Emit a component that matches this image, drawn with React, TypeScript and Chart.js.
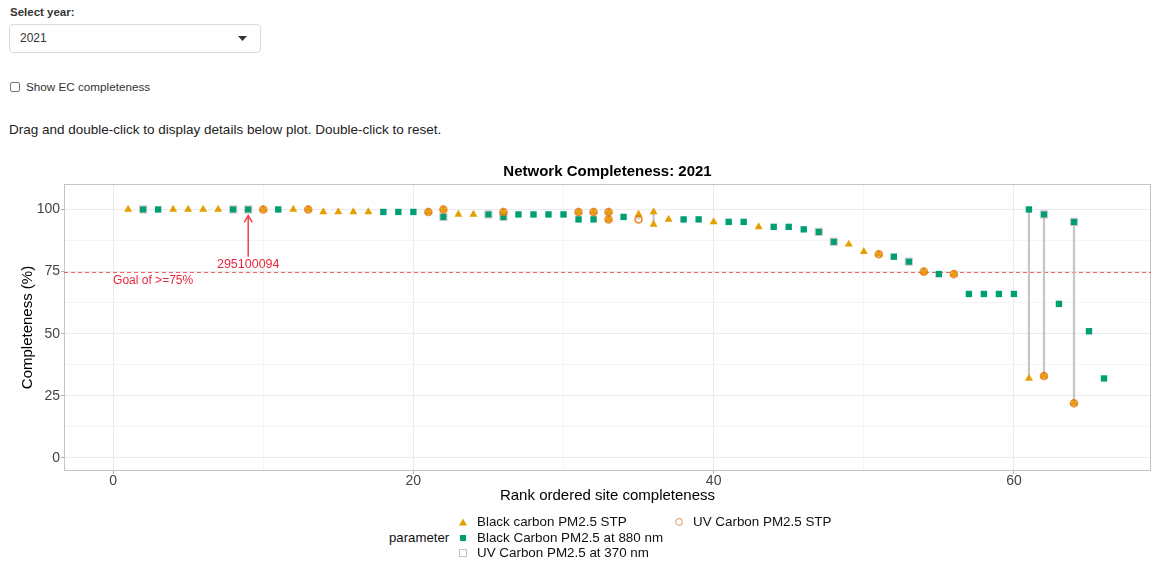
import React, { useEffect, useRef } from "react";
import { Chart, registerables } from "chart.js";

Chart.register(...registerables);

const FONT = '"Liberation Sans", Arial, Helvetica, sans-serif';

// ---- text ----
const selectLabel = "Select year:";
const selectedYear = "2021";
const checkboxLabel = "Show EC completeness";
const helpText = "Drag and double-click to display details below plot. Double-click to reset.";
const chartTitle = "Network Completeness: 2021";
const xAxisTitle = "Rank ordered site completeness";
const yAxisTitle = "Completeness (%)";
const legendTitle = "parameter";

// ---- ticks ----
const xTickValues = [0, 10, 20, 30, 40, 50, 60];
const xTickLabels = ["0", "", "20", "", "40", "", "60"];
const yTickValues = [0, 12.5, 25, 37.5, 50, 62.5, 75, 87.5, 100];
const yTickLabels = ["0", "", "25", "", "50", "", "75", "", "100"];

// ---- annotations ----
const goalValue = 75;
const goalLabel = "Goal of >=75%";
const highlightSite = "295100094";
const highlightRank = 9;
const highlightArrowFrom = 81;
const highlightArrowTo = 97.6;
const highlightLabelY = 78;

// ---- series ----
const seriesNames = [
  "Black carbon PM2.5 STP",
  "Black Carbon PM2.5 at 880 nm",
  "UV Carbon PM2.5 at 370 nm",
  "UV Carbon PM2.5 STP",
];

const bcStpRanks = [1, 4, 5, 6, 7, 10, 12, 13, 14, 15, 16, 17, 21, 22, 23, 24, 26, 31, 32, 33, 33, 35, 36, 36, 37, 40, 43, 49, 50, 51, 54, 56, 61, 62, 64];
const bcStpValues = [100, 100, 100, 100, 100, 100, 100, 100, 99, 99, 99, 99, 99, 100, 98, 98, 99, 99, 99, 99, 96, 98, 99, 94, 96, 95, 93, 86, 83, 82, 75, 74, 32, 33, 22];

const bc880Ranks = [2, 3, 8, 9, 11, 18, 19, 20, 22, 25, 26, 27, 28, 29, 30, 31, 32, 34, 38, 39, 41, 42, 44, 45, 46, 47, 48, 52, 53, 55, 57, 58, 59, 60, 61, 62, 63, 64, 65, 66];
const bc880Values = [100, 100, 100, 100, 100, 99, 99, 99, 97, 98, 97, 98, 98, 98, 98, 96, 96, 97, 96, 96, 95, 95, 93, 93, 92, 91, 87, 81, 79, 74, 66, 66, 66, 66, 100, 98, 62, 95, 51, 32];

const uv370Ranks = [2, 8, 9, 22, 25, 26, 47, 48, 53, 62, 64];
const uv370Values = [100, 100, 100, 97, 98, 97, 91, 87, 79, 98, 95];

const uvStpRanks = [10, 13, 21, 22, 26, 31, 32, 33, 33, 35, 51, 54, 56, 62, 64];
const uvStpValues = [100, 100, 99, 100, 99, 99, 99, 99, 96, 96, 82, 75, 74, 33, 22];

// ---- colours ----
const COL_BC_STP = "#E69F00";
const COL_BC_880 = "#009E73";
const COL_UV_370 = "rgba(185,165,175,0.6)";
const COL_UV_STP = "rgba(228,125,25,0.85)";
const COL_SEG = "#C6C6C6";
const COL_GOAL = "#E8283C";

function toPoints(ranks: number[], values: number[]) {
  return ranks.map((r, i) => ({ x: r, y: values[i] }));
}

function buildSegments() {
  const all = [
    toPoints(bcStpRanks, bcStpValues),
    toPoints(bc880Ranks, bc880Values),
    toPoints(uv370Ranks, uv370Values),
    toPoints(uvStpRanks, uvStpValues),
  ].flat();
  const byRank = new Map<number, number[]>();
  all.forEach((p) => {
    if (!byRank.has(p.x)) byRank.set(p.x, []);
    byRank.get(p.x)!.push(p.y);
  });
  const out: { x: number; y: number | null }[] = [];
  Array.from(byRank.keys())
    .sort((a, b) => a - b)
    .forEach((r) => {
      const v = byRank.get(r)!;
      const lo = Math.min(...v);
      const hi = Math.max(...v);
      if (hi - lo > 1.5) {
        out.push({ x: r, y: lo }, { x: r, y: hi }, { x: r, y: null });
      }
    });
  return out;
}

const annotationPlugin = {
  id: "annot",
  beforeDatasetsDraw(chart: any) {
    const { ctx, chartArea, scales } = chart;
    const y = scales.y;
    ctx.save();
    // panel border
    ctx.strokeStyle = "#C4C4C4";
    ctx.lineWidth = 1;
    ctx.strokeRect(chartArea.left + 0.5, chartArea.top + 0.5, chartArea.right - chartArea.left - 1, chartArea.bottom - chartArea.top - 1);
    // goal line
    const gy = Math.round(y.getPixelForValue(goalValue)) + 0.5;
    ctx.strokeStyle = "rgba(238,70,80,0.85)";
    ctx.lineWidth = 1.2;
    ctx.setLineDash([4, 3]);
    ctx.beginPath();
    ctx.moveTo(chartArea.left, gy);
    ctx.lineTo(chartArea.right, gy);
    ctx.stroke();
    ctx.restore();
  },
  afterDatasetsDraw(chart: any) {
    const { ctx, scales } = chart;
    const x = scales.x;
    const y = scales.y;
    ctx.save();
    // goal label
    ctx.fillStyle = COL_GOAL;
    ctx.font = `12px ${FONT}`;
    ctx.textAlign = "left";
    ctx.textBaseline = "middle";
    ctx.fillText(goalLabel, x.getPixelForValue(0), y.getPixelForValue(goalValue) + 9);
    // arrow
    const ax = x.getPixelForValue(highlightRank);
    const y0 = y.getPixelForValue(highlightArrowFrom);
    const y1 = y.getPixelForValue(highlightArrowTo);
    ctx.strokeStyle = "#EF4050";
    ctx.lineWidth = 1.5;
    ctx.beginPath();
    ctx.moveTo(ax, y0);
    ctx.lineTo(ax, y1);
    ctx.moveTo(ax - 4, y1 + 7);
    ctx.lineTo(ax, y1);
    ctx.lineTo(ax + 4, y1 + 7);
    ctx.stroke();
    // site label
    ctx.font = `12.5px ${FONT}`;
    ctx.textAlign = "center";
    ctx.fillText(highlightSite, ax, y.getPixelForValue(highlightLabelY));
    ctx.restore();
  },
  afterDraw(chart: any) {
    const { ctx, chartArea } = chart;
    ctx.save();
    ctx.fillStyle = "#000";
    ctx.font = `bold 15px ${FONT}`;
    ctx.textAlign = "center";
    ctx.textBaseline = "middle";
    ctx.fillText(chartTitle, (chartArea.left + chartArea.right) / 2, chartArea.top - 12);
    ctx.restore();
  },
};

function ChartCanvas() {
  const ref = useRef<HTMLCanvasElement | null>(null);
  useEffect(() => {
    if (!ref.current) return;
    const isMajorY = (v: number) => v % 25 === 0;
    const isMajorX = (v: number) => v % 20 === 0;
    const chart = new Chart(ref.current, {
      type: "scatter",
      data: {
        datasets: [
          {
            label: "segments",
            data: buildSegments() as any,
            showLine: true,
            borderColor: COL_SEG,
            borderWidth: 2.2,
            pointRadius: 0,
            spanGaps: false,
            order: 10,
          } as any,
          {
            label: seriesNames[1],
            data: toPoints(bc880Ranks, bc880Values),
            pointStyle: "rect",
            pointRadius: 4.5,
            backgroundColor: COL_BC_880,
            borderWidth: 0,
            order: 4,
          },
          {
            label: seriesNames[2],
            data: toPoints(uv370Ranks, uv370Values),
            pointStyle: "rect",
            pointRadius: 5.2,
            backgroundColor: "transparent",
            borderColor: COL_UV_370,
            borderWidth: 1,
            order: 3,
          },
          {
            label: seriesNames[0],
            data: toPoints(bcStpRanks, bcStpValues),
            pointStyle: "triangle",
            pointRadius: 4.6,
            backgroundColor: COL_BC_STP,
            borderWidth: 0,
            order: 2,
          },
          {
            label: seriesNames[3],
            data: toPoints(uvStpRanks, uvStpValues),
            pointStyle: "circle",
            pointRadius: 3.4,
            backgroundColor: "transparent",
            borderColor: COL_UV_STP,
            borderWidth: 1.8,
            order: 1,
          },
        ],
      },
      options: {
        animation: false,
        responsive: false,
        events: [],
        layout: { autoPadding: false, padding: { top: 29, right: 0, left: 0, bottom: 0 } },
        plugins: { legend: { display: false }, tooltip: { enabled: false }, title: { display: false } },
        scales: {
          x: {
            type: "linear",
            min: -3.27,
            max: 69.13,
            afterBuildTicks: (s: any) => {
              s.ticks = xTickValues.map((v) => ({ value: v }));
            },
            afterFit: (s: any) => {
              s.height = 44;
            },
            ticks: {
              callback: (v: any) => xTickLabels[xTickValues.indexOf(Number(v))],
              font: { family: FONT, size: 14, lineHeight: 1 },
              color: "#444",
              padding: 0,
              maxRotation: 0,
              autoSkip: false,
            },
            grid: {
              color: (c: any) => (c.tick && isMajorX(c.tick.value) ? "#EBEBEB" : "#F4F4F4"),
              tickColor: (c: any) => (c.tick && isMajorX(c.tick.value) ? "#B3B3B3" : "rgba(0,0,0,0)"),
              tickLength: 3,
              lineWidth: 1,
            },
            border: { display: false },
            title: {
              display: true,
              text: xAxisTitle,
              color: "#000",
              font: { family: FONT, size: 15 },
              padding: { top: 0, bottom: 10 },
            },
          },
          y: {
            type: "linear",
            min: -5.25,
            max: 110.25,
            afterBuildTicks: (s: any) => {
              s.ticks = yTickValues.map((v) => ({ value: v }));
            },
            afterFit: (s: any) => {
              s.width = 64;
            },
            ticks: {
              callback: (v: any) => yTickLabels[yTickValues.indexOf(Number(v))],
              font: { family: FONT, size: 14, lineHeight: 1 },
              color: "#444",
              padding: 1,
              autoSkip: false,
            },
            grid: {
              color: (c: any) => (c.tick && isMajorY(c.tick.value) ? "#EBEBEB" : "#F4F4F4"),
              tickColor: (c: any) => (c.tick && isMajorY(c.tick.value) ? "#B3B3B3" : "rgba(0,0,0,0)"),
              tickLength: 3,
              lineWidth: 1,
            },
            border: { display: false },
            title: {
              display: true,
              text: yAxisTitle,
              color: "#000",
              font: { family: FONT, size: 15 },
              padding: { top: 19, bottom: 0 },
            },
          },
        },
      },
      plugins: [annotationPlugin],
    } as any);
    return () => chart.destroy();
  }, []);
  return <canvas ref={ref} width={1151} height={360} style={{ display: "block", width: 1151, height: 360 }} />;
}

function LegendIcon({ kind }: { kind: number }) {
  return (
    <svg width={10} height={10} style={{ display: "block" }}>
      {kind === 0 && <polygon points="5,1.5 9,8.5 1,8.5" fill={COL_BC_STP} />}
      {kind === 1 && <rect x={2} y={2} width={6} height={6} fill={COL_BC_880} />}
      {kind === 2 && <rect x={1.5} y={1.5} width={7} height={7} fill="none" stroke="rgba(205,185,195,0.9)" strokeWidth={1} />}
      {kind === 3 && <circle cx={5} cy={5} r={3.3} fill="none" stroke="rgba(232,160,110,0.9)" strokeWidth={1.2} />}
    </svg>
  );
}

export default function App() {
  const text: React.CSSProperties = { position: "absolute", fontFamily: FONT, color: "#333", whiteSpace: "nowrap" };
  const legendItems = [
    { kind: 0, x: 458, y: 522 },
    { kind: 1, x: 458, y: 538 },
    { kind: 2, x: 458, y: 553 },
    { kind: 3, x: 674, y: 522 },
  ];
  const legendOrder = [0, 1, 2, 3];
  return (
    <div style={{ position: "absolute", left: 0, top: 0, width: 1151, height: 563, background: "#fff", overflow: "hidden" }}>
      <div style={{ ...text, left: 10, top: 4, fontSize: 11.5, fontWeight: "bold", lineHeight: "16px" }}>{selectLabel}</div>
      <div
        style={{
          position: "absolute",
          left: 9,
          top: 24,
          width: 252,
          height: 29,
          boxSizing: "border-box",
          border: "1px solid #d9d9d9",
          borderRadius: 4,
        }}
      >
        <div style={{ ...text, left: 10, top: 0, fontSize: 12, lineHeight: "27px" }}>{selectedYear}</div>
        <svg width={9} height={5} style={{ position: "absolute", left: 228, top: 11 }}>
          <polygon points="0,0 9,0 4.5,5" fill="#333" />
        </svg>
      </div>
      <div
        style={{
          position: "absolute",
          left: 10,
          top: 82,
          width: 10,
          height: 10,
          boxSizing: "border-box",
          border: "1px solid #767676",
          borderRadius: 2,
        }}
      />
      <div style={{ ...text, left: 26, top: 79, fontSize: 11.7, lineHeight: "16px" }}>{checkboxLabel}</div>
      <div style={{ ...text, left: 9, top: 121, fontSize: 13.5, lineHeight: "18px", color: "#222" }}>{helpText}</div>

      <div style={{ position: "absolute", left: 0, top: 155 }}>
        <ChartCanvas />
      </div>

      <div style={{ ...text, left: 389, top: 530, fontSize: 13.2, lineHeight: "16px", color: "#111" }}>{legendTitle}</div>
      {legendOrder.map((k) => {
        const it = legendItems[k];
        return (
          <React.Fragment key={k}>
            <div style={{ position: "absolute", left: it.x, top: it.y - 5 }}>
              <LegendIcon kind={it.kind} />
            </div>
            <div style={{ ...text, left: it.x + 19, top: it.y - 8, fontSize: 13.4, lineHeight: "16px", color: "#111" }}>
              {seriesNames[k]}
            </div>
          </React.Fragment>
        );
      })}
    </div>
  );
}
